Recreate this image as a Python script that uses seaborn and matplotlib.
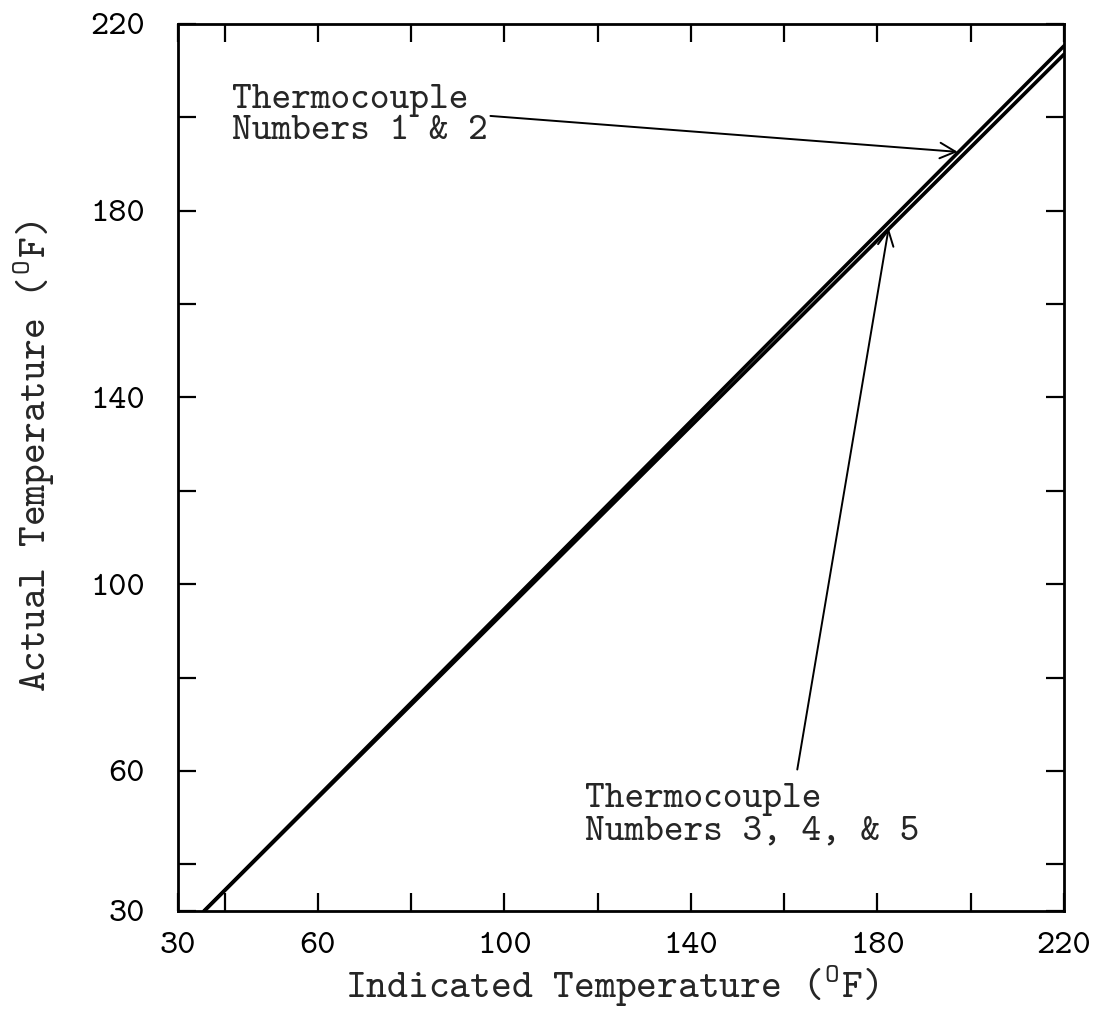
import os
import matplotlib
matplotlib.use("Agg")
import matplotlib.pyplot as plt
from matplotlib.font_manager import FontProperties
import seaborn as sns
import pandas as pd

# Calibration lines: actual vs indicated temperature (deg F)
indicated = [35.6, 220.0]
actual_tc12 = [30.0, 215.3]
actual_tc345 = [30.0, 213.5]

# Axis ticks
labeled_ticks = [30, 60, 100, 140, 180, 220]
unlabeled_ticks = [40, 80, 120, 160, 200]

# Callouts: (arrow tail, arrow head) in data units
tc12_tail = (97.0, 200.3)
tc12_head = (197.2, 192.6)
tc345_tail = (162.8, 60.3)
tc345_head = (182.4, 176.3)
tc12_text_pos = (41.6, 200.3)
tc345_text_pos = (117.3, 50.4)

FONT = ["cmtt10", "DejaVu Sans Mono"]
TT_PATH = os.path.join(matplotlib.get_data_path(), "fonts", "ttf", "cmtt10.ttf")

sns.set_style("white")
plt.rcParams["font.family"] = FONT
plt.rcParams["mathtext.fontset"] = "cm"
plt.rcParams["axes.unicode_minus"] = False

df = pd.DataFrame({
    "Indicated": indicated + indicated,
    "Actual": actual_tc12 + actual_tc345,
    "Thermocouple": ["1 & 2"] * 2 + ["3, 4, & 5"] * 2,
})

fig = plt.figure(figsize=(11.05, 10.29), dpi=100)
ax = fig.add_axes([0.1611, 0.1147, 0.8018, 0.862])

sns.lineplot(data=df, x="Indicated", y="Actual", hue="Thermocouple",
             palette=["black", "black"], linewidth=2.6, legend=False, ax=ax)

ax.set_xlim(30, 220)
ax.set_ylim(30, 220)

for spine in ax.spines.values():
    spine.set_visible(True)
    spine.set_color("black")
    spine.set_linewidth(2.0)

ax.set_xticks(labeled_ticks)
ax.set_yticks(labeled_ticks)
ax.set_xticks(unlabeled_ticks, minor=True)
ax.set_yticks(unlabeled_ticks, minor=True)
ax.set_xticklabels([str(t) for t in labeled_ticks])
ax.set_yticklabels([str(t) for t in labeled_ticks])
ax.tick_params(which="both", direction="in", length=13, width=1.6,
               top=True, right=True, bottom=True, left=True, colors="black")
ax.tick_params(axis="x", which="major", pad=15)
ax.tick_params(axis="y", which="major", pad=24)

ax.set_xlabel(r"Indicated Temperature ($^{\mathtt{O}}$F)", fontsize=28.5, fontfamily=FONT)
ax.set_ylabel(r"Actual Temperature ($^{\mathtt{O}}$F)", fontsize=28.5, fontfamily=FONT)
ax.xaxis.label.set_va("center")
ax.yaxis.label.set_va("center")
ax.xaxis.set_label_coords(0.49, -0.085)
ax.yaxis.set_label_coords(-0.162, 0.512)

ax.text(*tc12_text_pos, "Thermocouple\nNumbers 1 & 2", fontsize=27,
        ha="left", va="center", linespacing=0.95, fontfamily=FONT)
ax.text(*tc345_text_pos, "Thermocouple\nNumbers 3, 4, & 5", fontsize=27,
        ha="left", va="center", linespacing=0.95, fontfamily=FONT)

arrow_props = dict(arrowstyle="->", lw=1.4, color="black",
                   shrinkA=0, shrinkB=0, mutation_scale=28)
ax.annotate("", xy=tc12_head, xytext=tc12_tail, arrowprops=arrow_props)
ax.annotate("", xy=tc345_head, xytext=tc345_tail, arrowprops=arrow_props)

# Typewriter face for the tick labels
fig.canvas.draw()
tick_font = FontProperties(fname=TT_PATH, size=25)
for lab in ax.get_xticklabels() + ax.get_yticklabels():
    lab.set_fontproperties(tick_font)

fig.savefig("out.png", dpi=100, facecolor="white")
